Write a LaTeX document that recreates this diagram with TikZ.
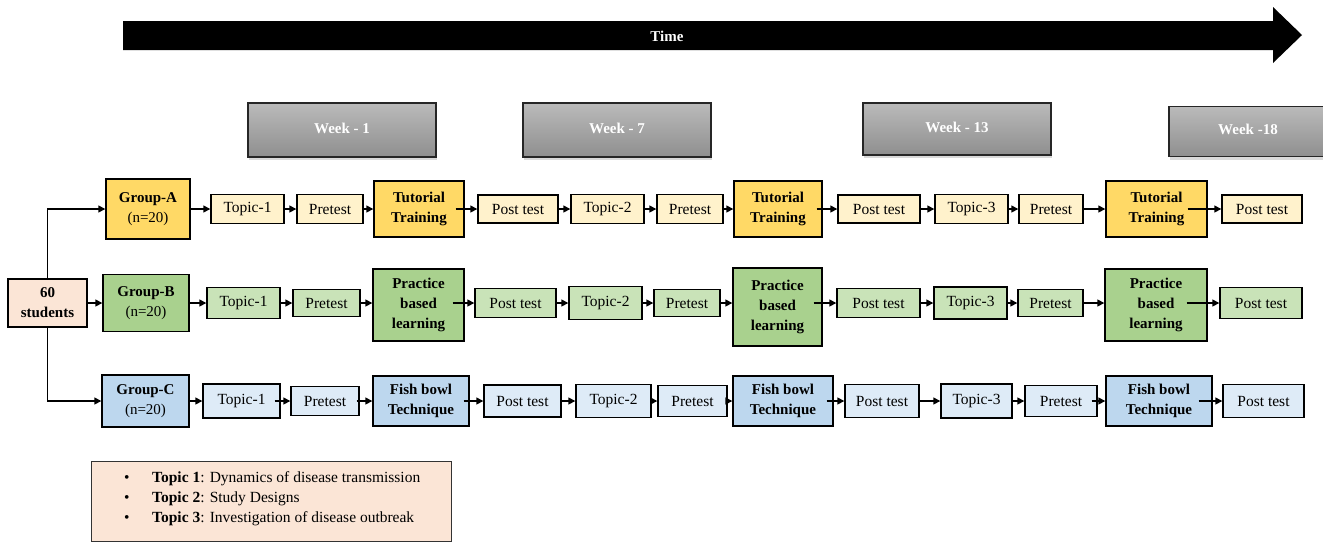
\documentclass[tikz,border=0pt]{standalone}
\usepackage{fontspec}
\setmainfont{Liberation Serif}
\usetikzlibrary{arrows.meta,shadows}
\definecolor{ybig}{HTML}{FFD966}
\definecolor{ysm}{HTML}{FFF2CC}
\definecolor{gbig}{HTML}{A9D18E}
\definecolor{gsm}{HTML}{C9E3B8}
\definecolor{bbig}{HTML}{BDD7EE}
\definecolor{bsm}{HTML}{DEEBF7}
\definecolor{peach}{HTML}{FBE5D6}
\newcommand{\bx}[6]{\node[#1,minimum width=#4,minimum height=#5] (#2) at (#3) {#6};}
\begin{document}
\begin{tikzpicture}[x=1pt,y=-1pt,
  box/.style={draw=black,line width=1.4pt,inner sep=0pt,align=center,font=\fontsize{15.5}{20}\selectfont},
  big/.style={box,font=\bfseries\fontsize{15}{20}\selectfont},
  ya/.style={box,fill=ysm}, yb/.style={big,fill=ybig},
  ga/.style={box,fill=gsm}, gb/.style={big,fill=gbig},
  ba/.style={box,fill=bsm}, bb/.style={big,fill=bbig},
  grp/.style={box,font=\fontsize{15}{20}\selectfont},
  arr/.style={line width=1.4pt,-{Triangle[length=7pt,width=7pt]}},
  week/.style={draw=black!85,line width=1.2pt,top color=black!27,bottom color=black!44,
    text=white,inner sep=0pt,font=\bfseries\fontsize{15}{18}\selectfont,
    drop shadow={shadow xshift=1pt,shadow yshift=-3pt,opacity=0.3}}]
\useasboundingbox (0,0) rectangle (1323,542);
\begin{scope}
\clip (0,0) rectangle (1323,542);
% time arrow
\fill[black] (123,21) -- (1273,21) -- (1273,7) -- (1302,35) -- (1273,63) -- (1273,50) -- (123,50) -- cycle;
\node[text=white,font=\bfseries\fontsize{15}{18}\selectfont] (time) at (667,36) {Time};
% weeks
\node[week,minimum width=188,minimum height=54] (w1) at (342,130) {\raisebox{4pt}{Week - 1}};
\node[week,minimum width=188,minimum height=54] (w7) at (617,130) {\raisebox{4pt}{Week - 7}};
\node[week,minimum width=188,minimum height=52] (w13) at (957,129) {\raisebox{4pt}{Week - 13}};
\node[week,minimum width=158,minimum height=50] (w18) at (1248,131.5) {\raisebox{4pt}{Week -18}};
\end{scope}
% start
\bx{grp,fill=peach}{S}{47.5,303}{79}{48}{\textbf{60}\\\textbf{students}}
% Row A
\bx{grp,fill=ybig}{GA}{148,209}{84}{60}{\textbf{Group-A}\\(n=20)}
\bx{ya}{A1}{247.5,209}{73}{29}{Topic-1}
\bx{ya}{A2}{330,209}{66}{29}{Pretest}
\bx{yb}{A3}{419,209}{90}{56}{Tutorial\\Training}
\bx{ya}{A4}{518,209}{80}{28}{Post test}
\bx{ya}{A5}{607.5,209}{73}{29}{Topic-2}
\bx{ya}{A6}{690,209}{66}{29}{Pretest}
\bx{yb}{A7}{778,209}{88}{56}{Tutorial\\Training}
\bx{ya}{A8}{879,209}{82}{28}{Post test}
\bx{ya}{A9}{971.5,209}{73}{29}{Topic-3}
\bx{ya}{A10}{1051,209}{64}{29}{Pretest}
\bx{yb}{A11}{1156.5,209}{101}{56}{Tutorial\\Training}
\bx{ya}{A12}{1262,209}{80}{28}{Post test}
% Row B
\bx{grp,fill=gbig}{GB}{146,303}{86}{57}{\textbf{Group-B}\\(n=20)}
\bx{ga}{B1}{243.5,303}{73}{31}{Topic-1}
\bx{ga}{B2}{326.5,303}{67}{27}{Pretest}
\bx{gb}{B3}{418.5,305}{91}{72}{Practice\\based\\learning}
\bx{ga}{B4}{515.5,303}{81}{29}{Post test}
\bx{ga}{B5}{605.5,303}{73}{33}{Topic-2}
\bx{ga}{B6}{687,303}{66}{27}{Pretest}
\bx{gb}{B7}{777.5,307}{89}{78}{Practice\\based\\learning}
\bx{ga}{B8}{878.5,303}{83}{29}{Post test}
\bx{ga}{B9}{970.5,303}{73}{32}{Topic-3}
\bx{ga}{B10}{1050.5,303}{65}{27}{Pretest}
\bx{gb}{B11}{1156,305}{102}{72}{Practice\\based\\learning}
\bx{ga}{B12}{1261,303}{82}{31}{Post test}
% Row C
\bx{grp,fill=bbig}{GC}{145.5,401}{87}{52}{\textbf{Group-C}\\(n=20)}
\bx{ba}{C1}{241.5,401}{77}{34}{Topic-1}
\bx{ba}{C2}{325,401}{68}{29}{Pretest}
\bx{bb}{C3}{421,401}{96}{50}{Fish bowl\\Technique}
\bx{ba}{C4}{522.5,401}{77}{32}{Post test}
\bx{ba}{C5}{613.5,401}{75}{33}{Topic-2}
\bx{ba}{C6}{692.5,401}{69}{31}{Pretest}
\bx{bb}{C7}{783,401}{100}{50}{Fish bowl\\Technique}
\bx{ba}{C8}{882,401}{74}{33}{Post test}
\bx{ba}{C9}{976.5,401}{71}{34}{Topic-3}
\bx{ba}{C10}{1061,401}{72}{31}{Pretest}
\bx{bb}{C11}{1159,401}{106}{50}{Fish bowl\\Technique}
\bx{ba}{C12}{1263.5,401}{81}{33}{Post test}
% connectors from start
\draw[arr] (S.north) |- (GA.west);
\draw[arr] (S.east) -- (GB.west);
\draw[arr] (S.south) |- (GC.west);
% row A
\draw[arr] (GA) -- (A1);
\draw[arr] (A1) -- (A2);
\draw[arr] (A2) -- (A3);
\draw[arr,shorten <=-9pt] (A3.east) -- (A4.west);
\draw[arr] (A4) -- (A5);
\draw[arr] (A5) -- (A6);
\draw[arr] (A6) -- (A7);
\draw[arr,shorten <=-6pt] (A7.east) -- (A8.west);
\draw[arr] (A8) -- (A9);
\draw[arr] (A9) -- (A10);
\draw[arr] (A10) -- (A11);
\draw[arr,shorten <=-20pt] (A11.east) -- (A12.west);
% row B
\draw[arr] (GB) -- (B1);
\draw[arr] (B1) -- (B2);
\draw[arr] (B2.east) -- (B2.east -| B3.west);
\draw[arr,shorten <=-12pt] (B3.east |- B4.west) -- (B4.west);
\draw[arr] (B4) -- (B5);
\draw[arr] (B5) -- (B6);
\draw[arr] (B6.east) -- (B6.east -| B7.west);
\draw[arr,shorten <=-9pt] (B7.east |- B8.west) -- (B8.west);
\draw[arr] (B8) -- (B9);
\draw[arr] (B9) -- (B10);
\draw[arr] (B10.east) -- (B10.east -| B11.west);
\draw[arr,shorten <=-21pt] (B11.east |- B12.west) -- (B12.west);
% row C
\draw[arr] (GC) -- (C1);
\draw[arr,shorten <=-6pt] (C1.east) -- (C2.west);
\draw[arr,shorten <=-3pt] (C2.east) -- (C3.west);
\draw[arr,shorten <=-6pt] (C3.east) -- (C4.west);
\draw[arr] (C4) -- (C5);
\draw[arr,shorten <=-4pt] (C5.east) -- (C6.west);
\draw[arr] (C6) -- (C7);
\draw[arr,shorten <=-7pt] (C7.east) -- (C8.west);
\draw[arr] (C8) -- (C9);
\draw[arr] (C9) -- (C10);
\draw[arr,shorten <=-6pt] (C10.east) -- (C11.west);
\draw[arr,shorten <=-14pt] (C11.east) -- (C12.west);
% legend
\node[draw=black!80,line width=1pt,fill=peach,minimum width=360,minimum height=80,inner sep=0pt] (legend) at (271,501) {};
\node[anchor=west,align=left,inner sep=0pt,font=\fontsize{15.5}{20}\selectfont] (legtext) at (124,499)
 {\makebox[28pt][l]{\textbullet}\textbf{Topic 1}: Dynamics of disease transmission\\
  \makebox[28pt][l]{\textbullet}\textbf{Topic 2}: Study Designs\\
  \makebox[28pt][l]{\textbullet}\textbf{Topic 3}: Investigation of disease outbreak};
\end{tikzpicture}
\end{document}
